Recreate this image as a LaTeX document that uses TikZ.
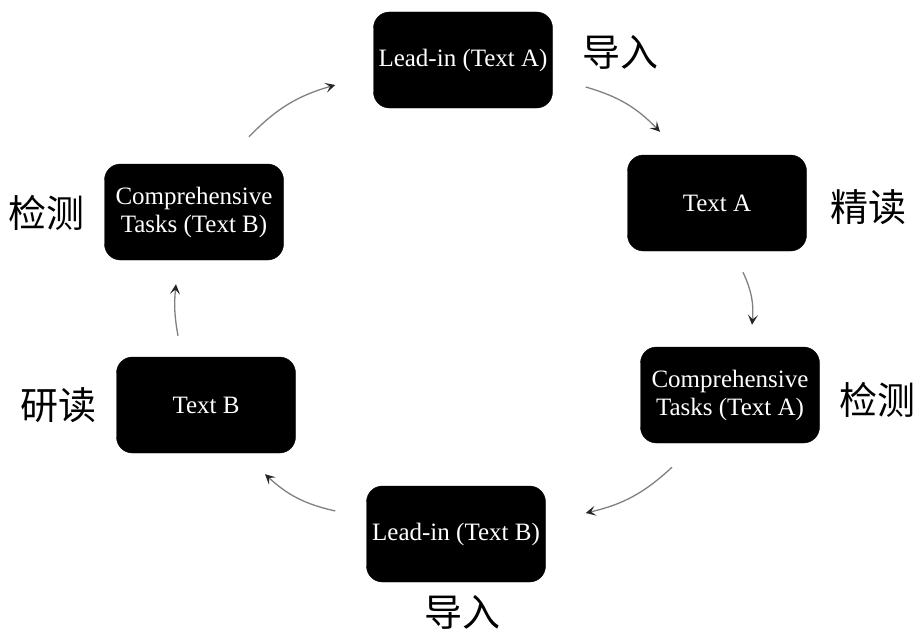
\documentclass[tikz,border=0pt]{standalone}
\usepackage{fontspec}
\setmainfont{Liberation Serif}
\newfontfamily\cjk{Noto Sans CJK SC}
\usetikzlibrary{arrows.meta}
\tikzset{
  box/.style={draw=black, fill=black, rounded corners=16pt, minimum width=179pt, minimum height=96pt,
    text=white, font=\fontsize{25}{28}\selectfont, align=center, inner sep=0pt},
  lab/.style={font=\cjk\fontsize{38}{40}\selectfont, inner sep=0pt},
  arr/.style={draw=black!50, line width=1.3pt, bend left=15,
    -{Stealth[length=10pt, width=10pt, inset=4.5pt, black!85]}},
}
\begin{document}
\begin{tikzpicture}[x=1pt,y=1pt]
\useasboundingbox (0,0) rectangle (921,-634);
\node[box] (n1) at (463,-60) {Lead-in (Text A)};
\node[box] (n2) at (717,-203) {Text A};
\node[box] (n3) at (730,-395) {Comprehensive\\Tasks (Text A)};
\node[box] (n4) at (456,-534) {Lead-in (Text B)};
\node[box] (n5) at (206,-405) {Text B};
\node[box] (n6) at (194,-212) {Comprehensive\\Tasks (Text B)};
\node[lab] (l1) at (620,-52) {导入};
\node[lab] (l2) at (868,-207) {精读};
\node[lab] (l3) at (877,-400) {检测};
\node[lab] (l4) at (462,-612) {导入};
\node[lab] (l5) at (58,-405) {研读};
\node[lab] (l6) at (47,-213) {检测};
\draw[arr] ([shift={(33,-27)}]n1.east) to ([shift={(-57,23)}]n2.north);
\draw[arr] ([shift={(26,-21)}]n2.south) to ([shift={(22,22)}]n3.north);
\draw[arr] ([shift={(-58,-24)}]n3.south) to ([shift={(40,21)}]n4.east);
\draw[arr] ([shift={(-31,23)}]n4.west) to ([shift={(59,-21)}]n5.south);
\draw[arr, bend left=8] ([shift={(-28,21)}]n5.north) to ([shift={(-18,-24)}]n6.south);
\draw[arr] ([shift={(55,27)}]n6.north) to ([shift={(-38,-25)}]n1.west);
\end{tikzpicture}
\end{document}
